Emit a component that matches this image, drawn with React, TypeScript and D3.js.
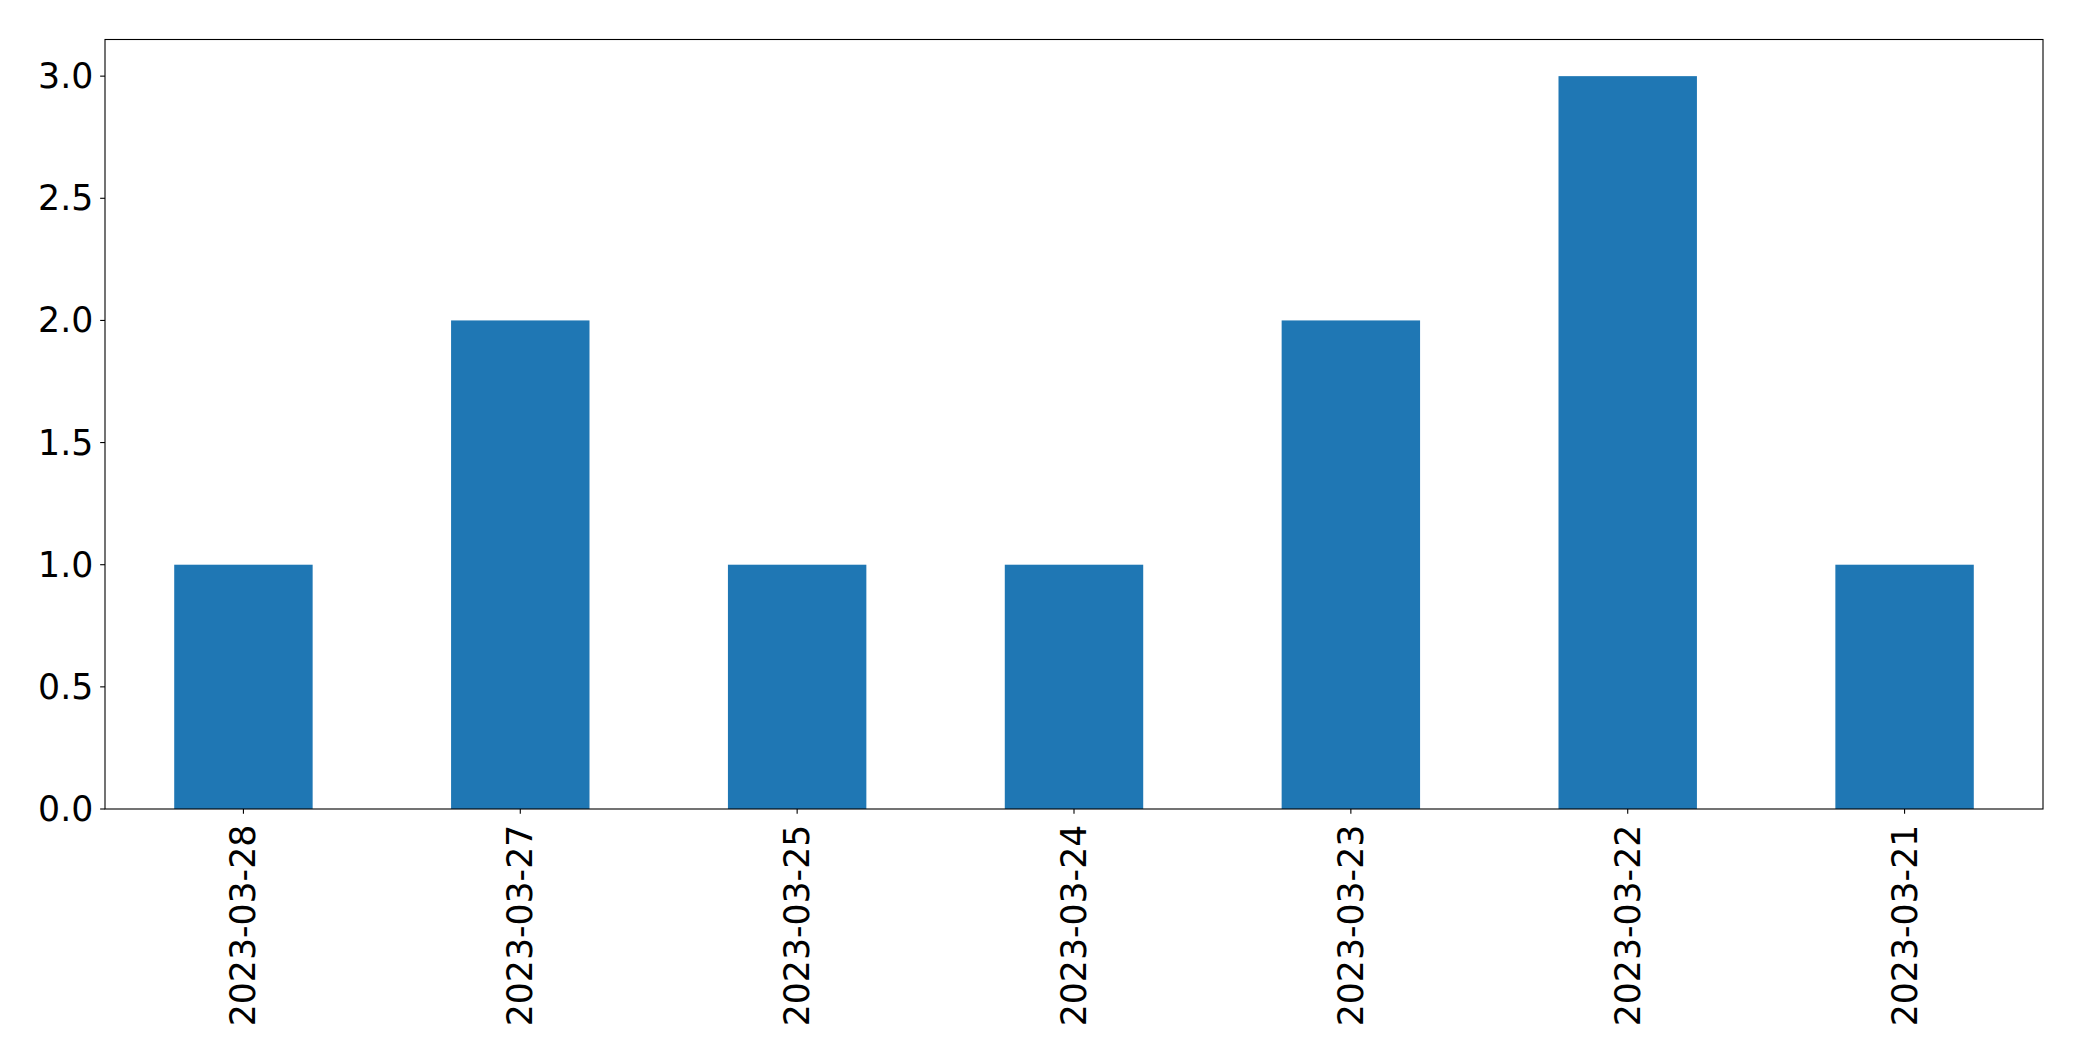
import React from "react";
import * as d3 from "d3";

const categories = ["2023-03-28", "2023-03-27", "2023-03-25", "2023-03-24", "2023-03-23", "2023-03-22", "2023-03-21"];
const values = [1, 2, 1, 1, 2, 3, 1];
const yTicks = [0, 0.5, 1.0, 1.5, 2.0, 2.5, 3.0];

const W = 2082;
const H = 1061;
const left = 105;
const right = 2043;
const top = 39.5;
const bottom = 809;

export default function App() {
  const x = d3
    .scaleLinear()
    .domain([-0.5, categories.length - 0.5])
    .range([left, right]);
  const y = d3
    .scaleLinear()
    .domain([0, d3.max(values)! * 1.05])
    .range([bottom, top]);
  const barW = x(0.25) - x(-0.25);
  const font = "DejaVu Sans, sans-serif";
  const fs = 34.7;
  const tickLen = 4.86;
  const pad = 4.86;

  return (
    <svg
      width={W}
      height={H}
      style={{ position: "absolute", left: 0, top: 0, background: "#fff" }}
    >
      <rect x={0} y={0} width={W} height={H} fill="#fff" />
      {values.map((v, i) => (
        <rect
          key={categories[i]}
          x={x(i) - barW / 2}
          y={y(v)}
          width={barW}
          height={y(0) - y(v)}
          fill="#1f77b4"
        />
      ))}
      <rect
        x={left}
        y={top}
        width={right - left}
        height={bottom - top}
        fill="none"
        stroke="#000"
        strokeWidth={1.1}
      />
      {yTicks.map((t) => (
        <g key={t}>
          <line x1={left - tickLen} x2={left} y1={y(t)} y2={y(t)} stroke="#000" strokeWidth={1.1} />
          <text
            x={left - tickLen - pad - 2}
            y={y(t)}
            textAnchor="end"
            dominantBaseline="central"
            fontFamily={font}
            fontSize={fs}
            fill="#000"
          >
            {t.toFixed(1)}
          </text>
        </g>
      ))}
      {categories.map((c, i) => (
        <g key={c}>
          <line x1={x(i)} x2={x(i)} y1={bottom} y2={bottom + tickLen} stroke="#000" strokeWidth={1.1} />
          <text
            transform={`translate(${x(i)},${bottom + tickLen + pad + 6}) rotate(-90)`}
            textAnchor="end"
            dominantBaseline="central"
            fontFamily={font}
            fontSize={fs}
            fill="#000"
          >
            {c}
          </text>
        </g>
      ))}
    </svg>
  );
}
